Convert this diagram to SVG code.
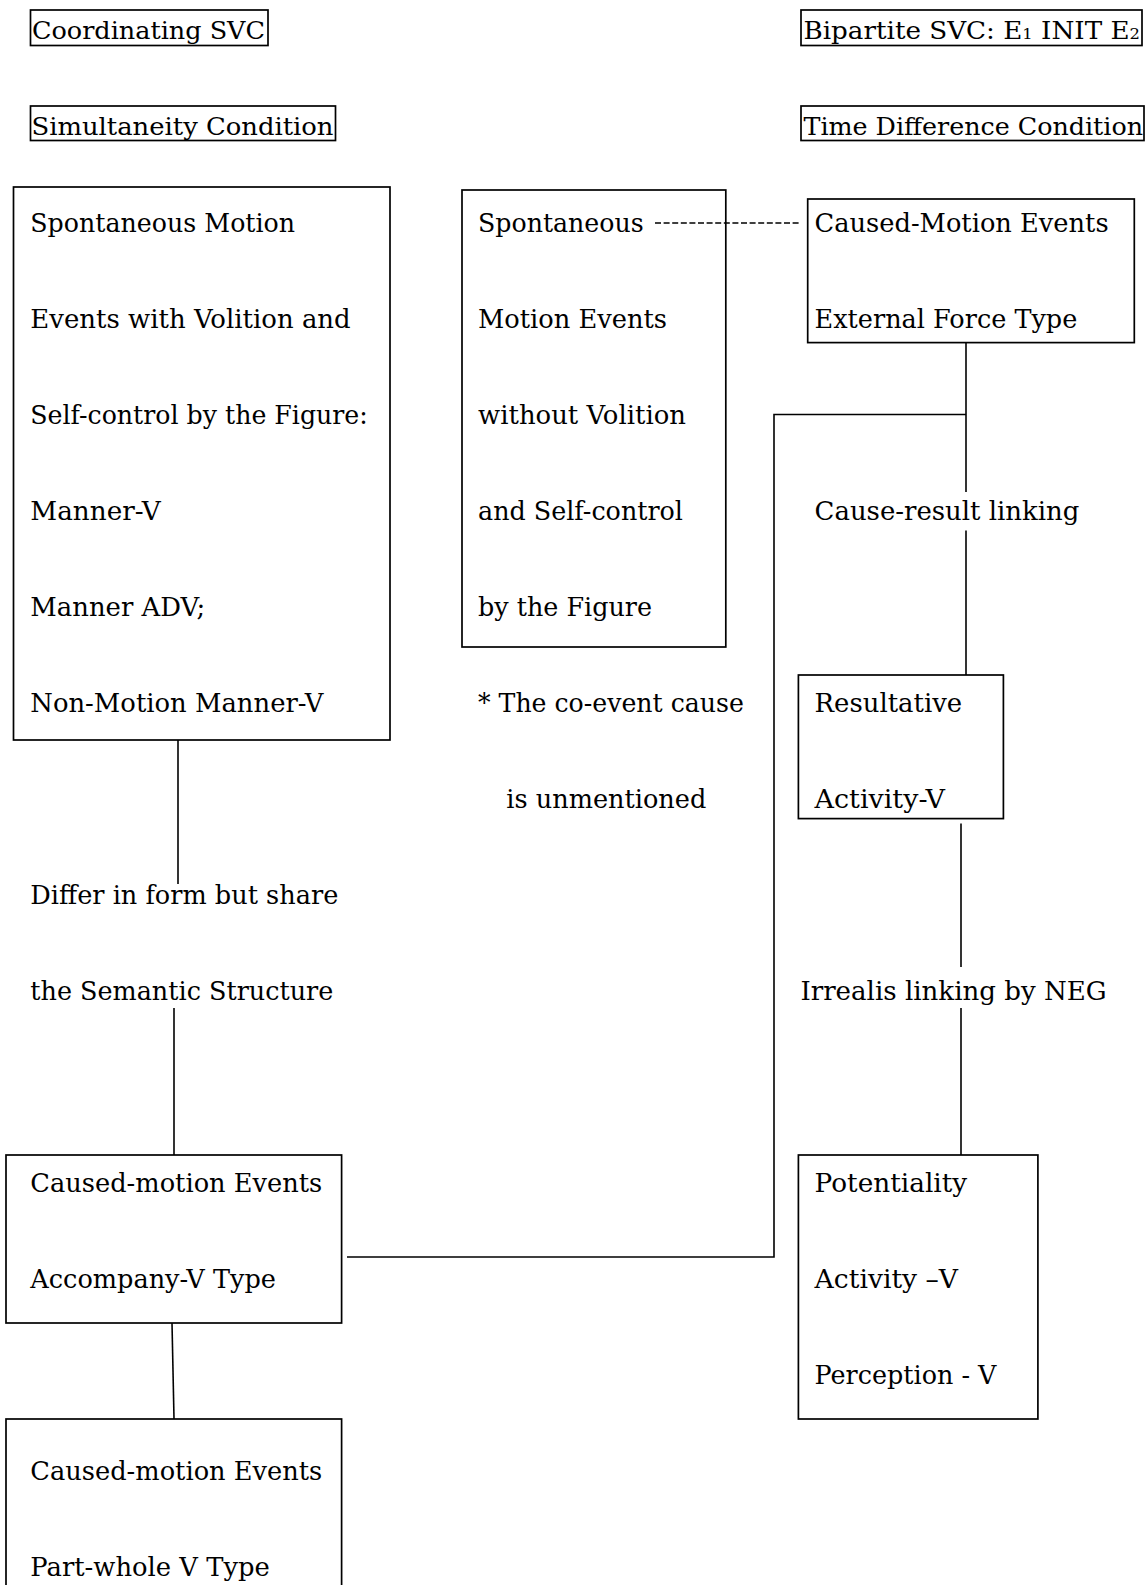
<svg xmlns="http://www.w3.org/2000/svg" width="1147" height="1585" viewBox="0 0 1147 1585">
<style>
.box{fill:none;stroke:#000;stroke-width:1.7}
.t{font-family:"DejaVu Serif","Liberation Serif",serif;font-size:26px;fill:#000}
.h{font-family:"DejaVu Serif","Liberation Serif",serif;font-size:24px;fill:#000}
.sub{font-size:15px}
.ln{fill:none;stroke:#000;stroke-width:1.6}
.dash{fill:none;stroke:#000;stroke-width:1.3;stroke-dasharray:6 2.6}
</style>
<rect width="1147" height="1585" fill="#fff"/>
<g id="connectors">
<line class="ln" x1="178" y1="740" x2="178" y2="884"/>
<line class="ln" x1="174" y1="1008" x2="174" y2="1155"/>
<line class="ln" x1="172" y1="1323" x2="174" y2="1419"/>
<path class="ln" d="M347 1257 H774 V414.5 H966"/>
<line class="ln" x1="966" y1="342.6" x2="966" y2="492"/>
<line class="ln" x1="966" y1="530.6" x2="966" y2="675"/>
<line class="ln" x1="961" y1="823.6" x2="961" y2="967"/>
<line class="ln" x1="961" y1="1008" x2="961" y2="1155"/>
<line class="dash" x1="655" y1="223" x2="800" y2="223"/>
</g>
<g id="coordinating-svc">
<rect class="box" x="30.5" y="10" width="237.5" height="35.5"/>
<text class="h" x="32" y="39" textLength="233" lengthAdjust="spacingAndGlyphs">Coordinating SVC</text>
</g>
<g id="simultaneity">
<rect class="box" x="30.5" y="106" width="305" height="34.5"/>
<text class="h" x="31.5" y="134.5" textLength="302" lengthAdjust="spacingAndGlyphs">Simultaneity Condition</text>
</g>
<g id="bipartite-svc">
<rect class="box" x="801" y="10" width="341" height="35.5"/>
<text class="h" x="803.5" y="39" textLength="336.5" lengthAdjust="spacingAndGlyphs">Bipartite SVC: E<tspan class="sub">1</tspan> INIT E<tspan class="sub">2</tspan></text>
</g>
<g id="time-difference">
<rect class="box" x="801" y="106" width="343" height="34.5"/>
<text class="h" x="803.5" y="134.5" textLength="339.5" lengthAdjust="spacingAndGlyphs">Time Difference Condition</text>
</g>
<g id="spontaneous-volition">
<rect class="box" x="13.5" y="187" width="376.5" height="553"/>
<text class="t" x="30.3" y="231.5" textLength="264.8" lengthAdjust="spacingAndGlyphs">Spontaneous Motion</text>
<text class="t" x="30.3" y="327.5" textLength="320.4" lengthAdjust="spacingAndGlyphs">Events with Volition and</text>
<text class="t" x="30.3" y="423.5" textLength="337.5" lengthAdjust="spacingAndGlyphs">Self-control by the Figure:</text>
<text class="t" x="30.3" y="519.5" textLength="130.4" lengthAdjust="spacingAndGlyphs">Manner-V</text>
<text class="t" x="30.3" y="615.5" textLength="175" lengthAdjust="spacingAndGlyphs">Manner ADV;</text>
<text class="t" x="30.3" y="711.5" textLength="293" lengthAdjust="spacingAndGlyphs">Non-Motion Manner-V</text>
</g>
<g id="shared-semantics">
<text class="t" x="30.3" y="903.5" textLength="308" lengthAdjust="spacingAndGlyphs">Differ in form but share</text>
<text class="t" x="30.3" y="999.5" textLength="303" lengthAdjust="spacingAndGlyphs">the Semantic Structure</text>
</g>
<g id="spontaneous-no-volition">
<rect class="box" x="462" y="190" width="263.8" height="457"/>
<text class="t" x="478" y="231.5" textLength="165.7" lengthAdjust="spacingAndGlyphs">Spontaneous</text>
<text class="t" x="478" y="327.5" textLength="189" lengthAdjust="spacingAndGlyphs">Motion Events</text>
<text class="t" x="478" y="423.5" textLength="208" lengthAdjust="spacingAndGlyphs">without Volition</text>
<text class="t" x="478" y="519.5" textLength="205" lengthAdjust="spacingAndGlyphs">and Self-control</text>
<text class="t" x="478" y="615.5" textLength="174" lengthAdjust="spacingAndGlyphs">by the Figure</text>
</g>
<g id="note">
<text class="t" x="478" y="711.5" textLength="265.8" lengthAdjust="spacingAndGlyphs">* The co-event cause</text>
<text class="t" x="506.3" y="807.5" textLength="200" lengthAdjust="spacingAndGlyphs">is unmentioned</text>
</g>
<g id="caused-motion-external">
<rect class="box" x="807.7" y="199" width="326.6" height="143.6"/>
<text class="t" x="814.6" y="231.5" textLength="294" lengthAdjust="spacingAndGlyphs">Caused-Motion Events</text>
<text class="t" x="814.6" y="327.5" textLength="262.7" lengthAdjust="spacingAndGlyphs">External Force Type</text>
</g>
<g id="cause-result">
<text class="t" x="814.6" y="519.5" textLength="264.8" lengthAdjust="spacingAndGlyphs">Cause-result linking</text>
</g>
<g id="resultative">
<rect class="box" x="798.4" y="675" width="205" height="143.6"/>
<text class="t" x="814.6" y="711.5" textLength="147.6" lengthAdjust="spacingAndGlyphs">Resultative</text>
<text class="t" x="814.6" y="807.5" textLength="130.4" lengthAdjust="spacingAndGlyphs">Activity-V</text>
</g>
<g id="irrealis">
<text class="t" x="800.4" y="999.5" textLength="306.2" lengthAdjust="spacingAndGlyphs">Irrealis linking by NEG</text>
</g>
<g id="potentiality">
<rect class="box" x="798.4" y="1155" width="239.5" height="264"/>
<text class="t" x="814.6" y="1191.5" textLength="152.6" lengthAdjust="spacingAndGlyphs">Potentiality</text>
<text class="t" x="814.6" y="1287.5" textLength="143.5" lengthAdjust="spacingAndGlyphs">Activity –V</text>
<text class="t" x="814.6" y="1383.5" textLength="181.9" lengthAdjust="spacingAndGlyphs">Perception - V</text>
</g>
<g id="caused-motion-accompany">
<rect class="box" x="6" y="1155" width="335.6" height="168"/>
<text class="t" x="30.3" y="1191.5" textLength="292" lengthAdjust="spacingAndGlyphs">Caused-motion Events</text>
<text class="t" x="30.3" y="1287.5" textLength="245.6" lengthAdjust="spacingAndGlyphs">Accompany-V Type</text>
</g>
<g id="caused-motion-part-whole">
<rect class="box" x="6" y="1419" width="335.6" height="180"/>
<text class="t" x="30.3" y="1479.5" textLength="292" lengthAdjust="spacingAndGlyphs">Caused-motion Events</text>
<text class="t" x="30.3" y="1575.5" textLength="239.5" lengthAdjust="spacingAndGlyphs">Part-whole V Type</text>
</g>
</svg>
